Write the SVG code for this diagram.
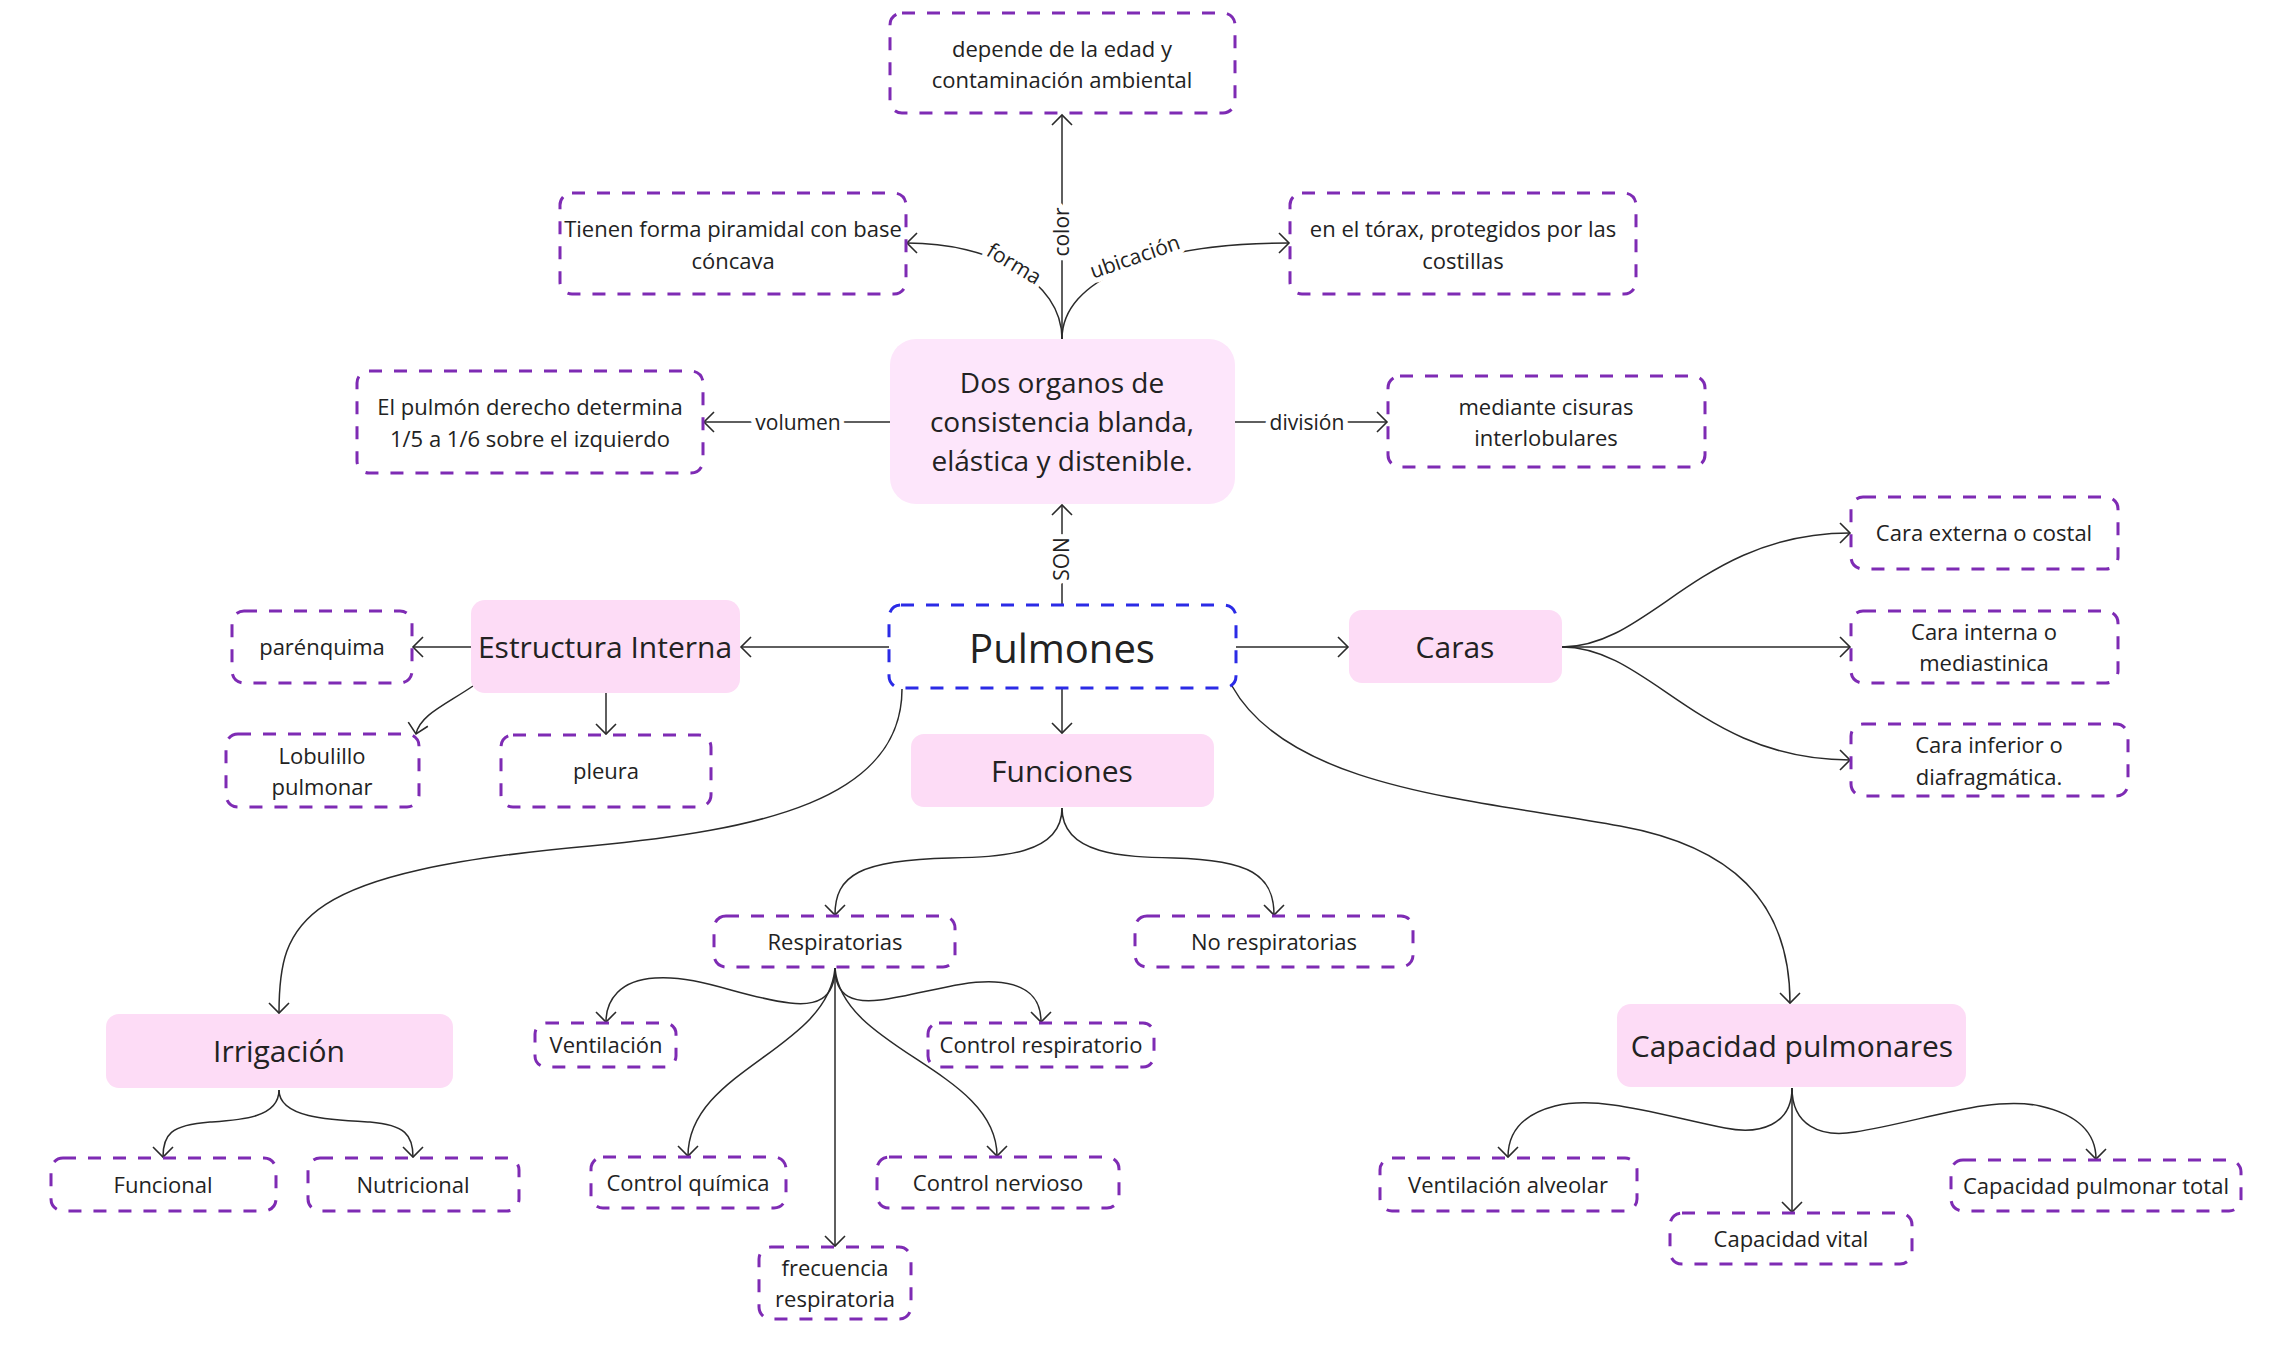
<svg xmlns="http://www.w3.org/2000/svg" width="2274" height="1356" viewBox="0 0 2274 1356">
<style>
text{font-family:"Open Sans","Noto Sans","Liberation Sans",sans-serif;fill:#222;text-anchor:middle}
.d{fill:#fff;stroke:#7e2bb4;stroke-width:3;stroke-dasharray:13 12}
.b{fill:#fff;stroke:#2b2be6;stroke-width:3;stroke-dasharray:13 12}
.p{fill:#fddcf6}
.pl{fill:#fde6fb}
.t{font-size:22px}
.m{font-size:30px}
.big{font-size:28px}
.lbl{font-size:21px;stroke:#fff;stroke-width:10;paint-order:stroke;stroke-linejoin:round}
.c path,.c line{fill:none;stroke:#2a2a2a;stroke-width:1.5;marker-end:url(#a)}
</style>
<defs>
<marker id="a" markerUnits="userSpaceOnUse" markerWidth="26" markerHeight="26" viewBox="-13 -13 26 26" refX="0" refY="0" orient="auto">
<path d="M-10,-10 L0,0 L-10,10" fill="none" stroke="#2a2a2a" stroke-width="1.6"/>
</marker>
</defs>
<rect width="2274" height="1356" fill="#fff"/>
<g class="c" id="connectors">
<line x1="1062" y1="339" x2="1062" y2="115"/>
<path d="M1062,339 C1062,280 990,243 907,243"/>
<path d="M1062,339 C1062,280 1150,243 1289,243"/>
<line x1="890" y1="422" x2="704" y2="422"/>
<line x1="1235" y1="422" x2="1387" y2="422"/>
<line x1="1062" y1="605" x2="1062" y2="505"/>
<line x1="889" y1="647" x2="741" y2="647"/>
<line x1="471" y1="647" x2="413" y2="647"/>
<path d="M473,686 C445,705 420,715 416,734"/>
<line x1="606" y1="693" x2="606" y2="734"/>
<line x1="1236" y1="647" x2="1348" y2="647"/>
<path d="M1562,647 C1650,647 1700,533 1850,533"/>
<line x1="1562" y1="647" x2="1850" y2="647"/>
<path d="M1562,647 C1650,647 1700,760 1850,760"/>
<line x1="1062" y1="688" x2="1062" y2="733"/>
<path d="M902,689 C902,800 760,830 590,846 C300,872 279,920 279,1013"/>
<path d="M1232,686 C1290,790 1480,800 1620,826 C1730,846 1790,900 1790,1003"/>
<path d="M1062,808 C1062,855 1000,857 950,858 C860,860 835,875 835,915"/>
<path d="M1062,808 C1062,855 1124,857 1174,858 C1250,860 1274,875 1274,915"/>
<path d="M279,1090 C279,1118 240,1120 210,1122 C170,1125 163,1135 163,1157"/>
<path d="M279,1090 C279,1118 330,1120 370,1122 C405,1125 413,1135 413,1157"/>
<path d="M835,968 C835,1000 815,1006 790,1003 C740,997 700,975 655,978 C620,980 606,1000 606,1022"/>
<path d="M835,968 C835,998 855,1003 880,1000 C920,995 960,980 995,982 C1030,984 1041,1000 1041,1022"/>
<path d="M835,968 C828,1050 688,1070 688,1156"/>
<path d="M835,968 C842,1050 997,1070 997,1156"/>
<line x1="835" y1="968" x2="835" y2="1246"/>
<path d="M1792,1088 C1792,1125 1760,1135 1725,1128 C1660,1115 1600,1095 1555,1106 C1520,1115 1508,1135 1508,1157"/>
<line x1="1792" y1="1088" x2="1792" y2="1212"/>
<path d="M1792,1088 C1792,1125 1820,1138 1855,1132 C1920,1122 1990,1095 2040,1106 C2080,1115 2096,1135 2096,1159"/>
<text class="lbl" transform="translate(1062,232) rotate(-90)" y="7">color</text>
<text class="lbl" transform="translate(1014,264) rotate(31)" y="7">forma</text>
<text class="lbl" transform="translate(1135,257) rotate(-19)" y="7">ubicación</text>
<text class="lbl" x="798" y="430">volumen</text>
<text class="lbl" x="1307" y="430">división</text>
<text class="lbl" transform="translate(1062,559) rotate(-90)" y="7">SON</text>
</g>
<g id="n-color"><rect class="d" x="890" y="13" width="345" height="100" rx="12"/><text class="t" x="1062" y="57">depende de la edad y</text><text class="t" x="1062" y="88">contaminación ambiental</text></g>
<g id="n-forma"><rect class="d" x="560" y="193" width="346" height="101" rx="12"/><text class="t" x="733" y="237">Tienen forma piramidal con base</text><text class="t" x="733" y="269">cóncava</text></g>
<g id="n-ubicacion"><rect class="d" x="1290" y="193" width="346" height="101" rx="12"/><text class="t" x="1463" y="237">en el tórax, protegidos por las</text><text class="t" x="1463" y="269">costillas</text></g>
<g id="n-dos"><rect class="pl" x="890" y="339" width="345" height="165" rx="26"/><text class="big" x="1062" y="393">Dos organos de</text><text class="big" x="1062" y="432">consistencia blanda,</text><text class="big" x="1062" y="471">elástica y distenible.</text></g>
<g id="n-volumen"><rect class="d" x="357" y="371" width="346" height="102" rx="12"/><text class="t" x="530" y="415">El pulmón derecho determina</text><text class="t" x="530" y="447">1/5 a 1/6 sobre el izquierdo</text></g>
<g id="n-division"><rect class="d" x="1388" y="376" width="317" height="91" rx="12"/><text class="t" x="1546" y="415">mediante cisuras</text><text class="t" x="1546" y="446">interlobulares</text></g>
<g id="n-pulmones"><rect class="b" x="889" y="605" width="347" height="83" rx="12"/><text x="1062" y="663" style="font-size:40px">Pulmones</text></g>
<g id="n-estructura"><rect class="p" x="471" y="600" width="269" height="93" rx="14"/><text class="m" x="605" y="658">Estructura Interna</text></g>
<g id="n-parenquima"><rect class="d" x="232" y="611" width="180" height="72" rx="12"/><text class="t" x="322" y="655">parénquima</text></g>
<g id="n-lobulillo"><rect class="d" x="226" y="734" width="193" height="73" rx="12"/><text class="t" x="322" y="764">Lobulillo</text><text class="t" x="322" y="795">pulmonar</text></g>
<g id="n-pleura"><rect class="d" x="501" y="735" width="210" height="72" rx="12"/><text class="t" x="606" y="779">pleura</text></g>
<g id="n-funciones"><rect class="p" x="911" y="734" width="303" height="73" rx="13"/><text class="m" x="1062" y="782">Funciones</text></g>
<g id="n-caras"><rect class="p" x="1349" y="610" width="213" height="73" rx="13"/><text class="m" x="1455" y="658">Caras</text></g>
<g id="n-externa"><rect class="d" x="1851" y="497" width="267" height="72" rx="12"/><text class="t" x="1984" y="541">Cara externa o costal</text></g>
<g id="n-interna"><rect class="d" x="1851" y="611" width="267" height="72" rx="12"/><text class="t" x="1984" y="640">Cara interna o</text><text class="t" x="1984" y="671">mediastinica</text></g>
<g id="n-inferior"><rect class="d" x="1851" y="724" width="277" height="72" rx="12"/><text class="t" x="1989" y="753">Cara inferior o</text><text class="t" x="1989" y="785">diafragmática.</text></g>
<g id="n-irrigacion"><rect class="p" x="106" y="1014" width="347" height="74" rx="13"/><text class="m" x="279" y="1062">Irrigación</text></g>
<g id="n-funcional"><rect class="d" x="51" y="1158" width="225" height="53" rx="12"/><text class="t" x="163" y="1193">Funcional</text></g>
<g id="n-nutricional"><rect class="d" x="308" y="1158" width="211" height="53" rx="12"/><text class="t" x="413" y="1193">Nutricional</text></g>
<g id="n-respiratorias"><rect class="d" x="714" y="916" width="241" height="51" rx="12"/><text class="t" x="835" y="950">Respiratorias</text></g>
<g id="n-norespiratorias"><rect class="d" x="1135" y="916" width="278" height="51" rx="12"/><text class="t" x="1274" y="950">No respiratorias</text></g>
<g id="n-ventilacion"><rect class="d" x="535" y="1023" width="141" height="44" rx="11"/><text class="t" x="606" y="1053">Ventilación</text></g>
<g id="n-controlresp"><rect class="d" x="928" y="1023" width="226" height="44" rx="11"/><text class="t" x="1041" y="1053">Control respiratorio</text></g>
<g id="n-quimica"><rect class="d" x="591" y="1157" width="195" height="51" rx="12"/><text class="t" x="688" y="1191">Control química</text></g>
<g id="n-nervioso"><rect class="d" x="877" y="1157" width="242" height="51" rx="12"/><text class="t" x="998" y="1191">Control nervioso</text></g>
<g id="n-frecuencia"><rect class="d" x="759" y="1247" width="152" height="72" rx="12"/><text class="t" x="835" y="1276">frecuencia</text><text class="t" x="835" y="1307">respiratoria</text></g>
<g id="n-capacidad"><rect class="p" x="1617" y="1004" width="349" height="83" rx="14"/><text class="m" x="1792" y="1057">Capacidad pulmonares</text></g>
<g id="n-ventalv"><rect class="d" x="1380" y="1158" width="257" height="53" rx="12"/><text class="t" x="1508" y="1193">Ventilación alveolar</text></g>
<g id="n-vital"><rect class="d" x="1670" y="1213" width="242" height="51" rx="12"/><text class="t" x="1791" y="1247">Capacidad vital</text></g>
<g id="n-total"><rect class="d" x="1951" y="1160" width="290" height="51" rx="12"/><text class="t" x="2096" y="1194">Capacidad pulmonar total</text></g>
</svg>
